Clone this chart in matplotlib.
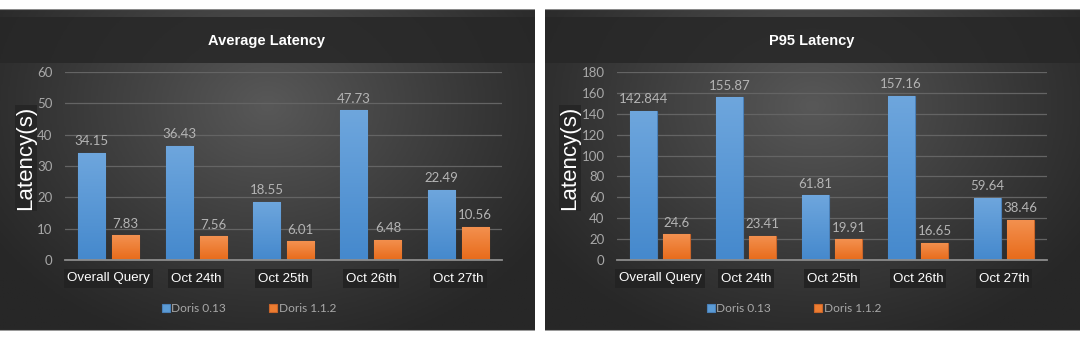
import matplotlib
matplotlib.use("Agg")
import matplotlib.pyplot as plt
import numpy as np
from matplotlib.colors import LinearSegmentedColormap
from matplotlib.patches import Rectangle

categories = ["Overall Query", "Oct 24th", "Oct 25th", "Oct 26th", "Oct 27th"]
series_names = ["Doris 0.13", "Doris 1.1.2"]
avg_doris013 = [34.15, 36.43, 18.55, 47.73, 22.49]
avg_doris112 = [7.83, 7.56, 6.01, 6.48, 10.56]
p95_doris013 = [142.844, 155.87, 61.81, 157.16, 59.64]
p95_doris112 = [24.6, 23.41, 19.91, 16.65, 38.46]
avg_ticks = [0, 10, 20, 30, 40, 50, 60]
p95_ticks = [0, 20, 40, 60, 80, 100, 120, 140, 160, 180]

W, H = 1080, 338
SANS = "Liberation Sans"
NUM = "Lato"

bg_cmap = LinearSegmentedColormap.from_list("bg", ["#272727", "#585858"])
blue_cmap = LinearSegmentedColormap.from_list("blue", ["#4589cd", "#6ea6dd"])
orange_cmap = LinearSegmentedColormap.from_list("orange", ["#e86b1a", "#f39150"])


def fx(px):
    return px / W


def fy(py):
    return 1 - py / H


def panel_background(fig, x0, x1, y0, y1):
    ax = fig.add_axes([fx(x0), fy(y1), fx(x1 - x0), (y1 - y0) / H])
    yy, xx = np.mgrid[0:1:200j, 0:1:400j]
    d = np.sqrt(((xx - 0.5) / 0.62) ** 2 + ((yy - 0.3) / 0.8) ** 2)
    v = np.clip(1 - d, 0, 1) ** 1.1
    ax.imshow(v, extent=[0, 1, 0, 1], aspect="auto", cmap=bg_cmap, vmin=0, vmax=1)
    # darker title band
    band_top = (y1 - 17) / (y1 - y0)
    band_bot = (y1 - 63) / (y1 - y0)
    ax.add_patch(Rectangle((0, band_bot), 1, band_top - band_bot,
                           facecolor="#272727", edgecolor="none", alpha=0.85))
    ax.axhline(1, color="#8a8a8a", lw=1.5)
    ax.axhline(0, color="#9a9a9a", lw=1.5)
    ax.set_xlim(0, 1)
    ax.set_ylim(0, 1)
    ax.axis("off")
    return ax


def gradient_bars(ax, bars, cmap):
    grad = np.linspace(0, 1, 64).reshape(-1, 1)
    for bar in bars:
        x, w, h = bar.get_x(), bar.get_width(), bar.get_height()
        im = ax.imshow(grad, extent=[x, x + w, 0, h], origin="lower",
                       aspect="auto", cmap=cmap, zorder=3)
        im.set_clip_path(bar)


def draw_chart(fig, rect, title, title_x, blue_vals, orange_vals, ticks,
               ylabel_x, legend_x):
    ax = fig.add_axes(rect)
    ax.set_facecolor("none")
    x = np.arange(len(categories))
    width = 0.31
    off = 0.195
    b1 = ax.bar(x - off, blue_vals, width, color="#5b9bd5", edgecolor="#4a80b8",
                linewidth=0.8, zorder=2, label=series_names[0])
    b2 = ax.bar(x + off, orange_vals, width, color="#ed7d31", edgecolor="#c9652a",
                linewidth=0.8, zorder=2, label=series_names[1])
    gradient_bars(ax, b1, blue_cmap)
    gradient_bars(ax, b2, orange_cmap)

    for bars, vals in ((b1, blue_vals), (b2, orange_vals)):
        for bar, v in zip(bars, vals):
            ax.annotate(f"{v:g}", (bar.get_x() + bar.get_width() / 2, v),
                        xytext=(0, 4), textcoords="offset points",
                        ha="center", va="bottom", fontsize=9.5,
                        family=NUM, color="#b4b4b4", zorder=5)

    ax.set_xlim(-0.5, len(categories) - 0.5)
    ax.set_ylim(ticks[0], ticks[-1])
    ax.set_yticks(ticks)
    ax.set_xticks(x)
    ax.set_xticklabels(categories, family=SANS, fontsize=9.6, color="white")
    for lab in ax.get_xticklabels():
        lab.set_bbox(dict(facecolor="#232323", edgecolor="none", pad=2.2))
    ax.tick_params(axis="x", length=0, pad=9)
    ax.tick_params(axis="y", length=0, pad=9, labelsize=9.5, labelcolor="#a8a8a8")
    for lab in ax.get_yticklabels():
        lab.set_family(NUM)
    ax.grid(axis="y", color="#646464", lw=0.9, zorder=0)
    ax.set_axisbelow(True)
    for side in ("top", "right", "left"):
        ax.spines[side].set_visible(False)
    ax.spines["bottom"].set_color("#8c8c8c")
    ax.spines["bottom"].set_linewidth(1.3)
    ax.spines["bottom"].set_zorder(4)

    fig.text(title_x, fy(41), title, ha="center", va="center", family=SANS,
             fontsize=10.5, fontweight="bold", color="white")
    fig.text(ylabel_x, fy(158), "Latency(s)", ha="center", va="center",
             rotation=90, family=SANS, fontsize=16, color="white",
             bbox=dict(facecolor="#262626", edgecolor="none", pad=0.5))

    leg = ax.legend(loc="center", bbox_to_anchor=(legend_x, fy(309)),
                    bbox_transform=fig.transFigure, ncol=2, frameon=False,
                    handlelength=0.65, handleheight=0.65, handletextpad=0.15,
                    columnspacing=3.6, prop={"family": NUM, "size": 8.6})
    for t in leg.get_texts():
        t.set_color("#a8a8a8")
    return ax


fig = plt.figure(figsize=(W / 100, H / 100), dpi=100)
fig.patch.set_facecolor("white")

panel_background(fig, 0, 535, 9, 331)
panel_background(fig, 545, 1080, 9, 331)

draw_chart(fig, [fx(65), fy(260), fx(437), 188 / H], "Average Latency", fx(267),
           avg_doris013, avg_doris112, avg_ticks, fx(26), fx(249))
draw_chart(fig, [fx(617), fy(260), fx(430), 188 / H], "P95 Latency", fx(812),
           p95_doris013, p95_doris112, p95_ticks, fx(570), fx(794))

fig.savefig("out.png", dpi=100, facecolor=fig.get_facecolor())
